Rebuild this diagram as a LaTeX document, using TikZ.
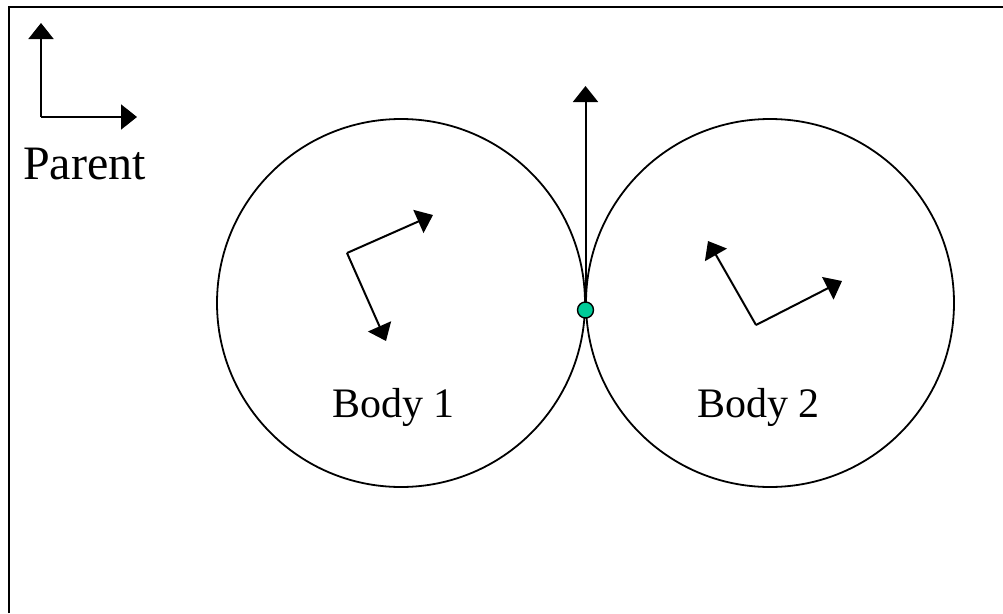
\documentclass[tikz,border=0pt]{standalone}
\usepackage{fontspec}
\setmainfont{Liberation Serif}
\usetikzlibrary{arrows.meta}
\definecolor{contactgreen}{RGB}{0,204,153}

\begin{document}
\begin{tikzpicture}[
    x=1pt, y=-1pt,
    body/.style={draw, circle, line width=1.8pt, minimum size=368pt, inner sep=0pt},
    vec/.style={-{Triangle[length=16pt, width=25pt]}, line width=2pt},
    lbl/.style={anchor=base west, inner sep=0pt, font=\fontsize{42}{50}\selectfont},
    contact/.style={draw, circle, fill=contactgreen, line width=1.4pt, minimum size=16pt, inner sep=0pt}
]
\useasboundingbox (0,0) rectangle (1003,613);
\draw[line width=1.8pt] (9,613) -- (9,7) -- (1003,7);

\coordinate (p0) at (41,117);
\coordinate (px) at (137,117);
\coordinate (py) at (41,23);
\draw[vec] (p0) -- (py);
\draw[vec] (p0) -- (px);
\node[lbl, font=\fontsize{48}{56}\selectfont] (parent) at (23,179) {Parent};

\node[body] (b1) at (401,303) {};
\node[body] (b2) at (770,303) {};
\node[lbl] (b1label) at (332,417) {Body 1};
\node[lbl] (b2label) at (697,417) {Body 2};

\coordinate (o1) at (347,253);
\coordinate (o1x) at (433,215);
\coordinate (o1y) at (386,341);
\draw[vec] (o1) -- (o1x);
\draw[vec] (o1) -- (o1y);

\coordinate (o2) at (756,325);
\coordinate (o2x) at (842,281);
\coordinate (o2y) at (708,241);
\draw[vec] (o2) -- (o2x);
\draw[vec] (o2) -- (o2y);

\coordinate (n) at (585.5,86);
\node[contact] (c) at (585.5,310) {};
\draw[vec] (c) -- (n);
\end{tikzpicture}
\end{document}
